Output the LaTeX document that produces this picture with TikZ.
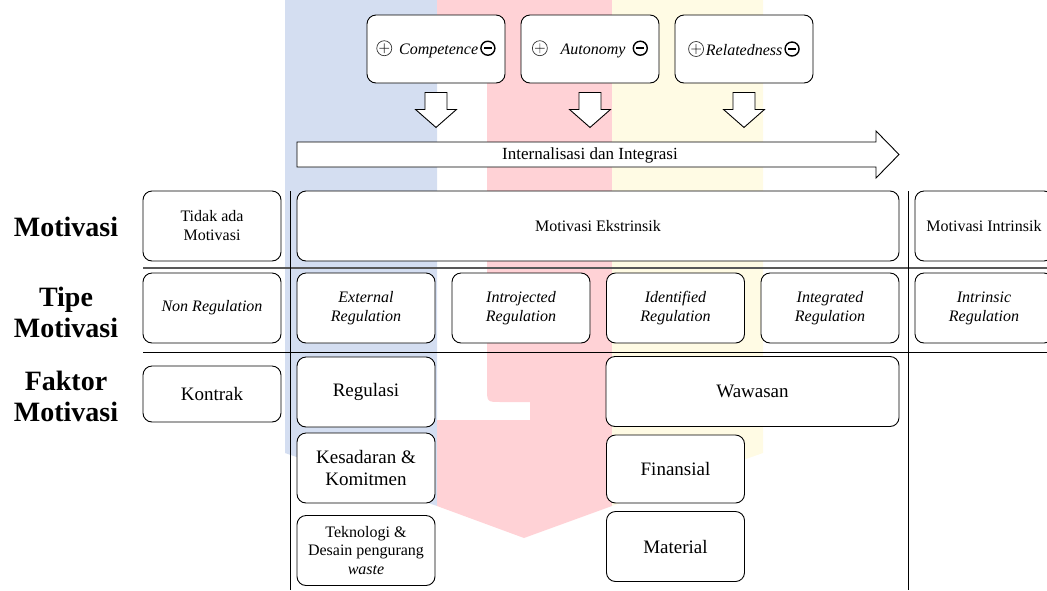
\documentclass[tikz,border=0pt]{standalone}
\usepackage{fontspec}
\setmainfont{Liberation Serif}
\usepackage{tikz}
\definecolor{logoblue}{RGB}{212,222,241}
\definecolor{logored}{RGB}{255,210,214}
\definecolor{logoyellow}{RGB}{255,251,228}
\newcommand{\plusmark}{\tikz[baseline=-6pt]{\draw[line width=0.7pt, black!80] (0,0) circle (7.5pt) (-4.8pt,0) -- (4.8pt,0) (0,-4.8pt) -- (0,4.8pt);}}
\newcommand{\minusmark}{\tikz[baseline=-6pt]{\draw[line width=1.4pt] (0,0) circle (7pt); \draw[line width=2.2pt] (-3.8pt,0) -- (3.8pt,0);}}

\begin{document}
\begin{tikzpicture}[x=1pt, y=-1pt,
    box/.style={draw, rounded corners=9pt, fill=white, line width=0.9pt, inner sep=2pt, align=center,
        minimum width=138pt, minimum height=70pt, font=\fontsize{16}{19}\selectfont},
    bigbox/.style={box, font=\fontsize{19}{22}\selectfont},
    regbox/.style={box, font=\fontsize{16}{19}\selectfont\itshape},
    rowlabel/.style={align=center, font=\fontsize{28}{31}\selectfont\bfseries}]
    \useasboundingbox (0,0) rectangle (1047,590);

    % logo in the background
    \fill[logoblue] (285,0) -- (437,0) -- (437,506) -- (285,453) -- cycle;
    \fill[logored] (437,0) -- (612,0) -- (612,506) -- (524,538) -- (437,506) -- (437,420) -- (530,420)
        -- (530,402) -- (501,402) .. controls (487,402) .. (487,388) -- (487,38) -- (437,38) -- cycle;
    \fill[logoyellow] (612,0) -- (763,0) -- (763,453) -- (612,506) -- cycle;

    % grid lines
    \draw[line width=1.6pt, black!65] (143,268) -- (1047,268);
    \draw[line width=0.9pt] (143,352) -- (1047,352);
    \draw[line width=0.9pt] (290,191) -- (290,590);
    \draw[line width=0.9pt] (908,191) -- (908,590);

    \node (comp) [box, minimum height=68pt] at (436,49) {\plusmark\hspace{7pt}\textit{Competence}\hspace{2pt}\minusmark};
    \node (auto) [box, minimum height=68pt] at (590,49) {\plusmark\hspace{13pt}\textit{Autonomy}\hspace{7pt}\minusmark};
    \node (rel) [box, minimum height=68pt] at (744,49) {\plusmark\hspace{2pt}\textit{Relatedness}\hspace{2pt}\minusmark};

    \foreach \n in {comp, auto, rel}
        \draw[fill=white, line width=0.9pt] (\n.south) ++(-11,9) -- ++(22,0) -- ++(0,17) -- ++(9.5,0)
            -- ++(-20.5,18) -- ++(-20.5,-18) -- ++(9.5,0) -- cycle;

    \draw[fill=white, line width=0.9pt] (297,142) -- (876,142) -- (876,131) -- (899,154.5) -- (876,178)
        -- (876,167) -- (297,167) -- cycle;
    \node (intg) [font=\fontsize{17}{20}\selectfont] at (590,155) {Internalisasi dan Integrasi};

    \node (lmot) [rowlabel] at (66,227) {Motivasi};
    \node (ltipe) [rowlabel] at (66,312) {Tipe\\Motivasi};
    \node (lfaktor) [rowlabel] at (66,396) {Faktor\\Motivasi};

    \node (amot) [box] at (212,226) {Tidak ada\\Motivasi};
    \node (ekst) [box, minimum width=602pt] at (598,226) {Motivasi Ekstrinsik};
    \node (intr) [box] at (984,226) {Motivasi Intrinsik};

    \node (nonreg) [regbox] at (212,308) {Non Regulation};
    \node (extreg) [regbox] at (366,308) {External\\Regulation};
    \node (introreg) [regbox] at (521,308) {Introjected\\Regulation};
    \node (idenreg) [regbox] at (675.5,308) {Identified\\Regulation};
    \node (integreg) [regbox] at (830,308) {Integrated\\Regulation};
    \node (intrinreg) [regbox] at (984,308) {Intrinsic\\Regulation};

    \node (kontrak) [bigbox, minimum height=56pt] at (212,394) {Kontrak};
    \node (regulasi) [bigbox] at (366,392) {Regulasi};
    \node (sadar) [bigbox] at (366,468) {Kesadaran \&\\Komitmen};
    \node (tekno) [box, font=\fontsize{16}{18.5}\selectfont] at (366,550.5) {Teknologi \&\\Desain pengurang\\\textit{waste}};
    \node (wawasan) [bigbox, minimum width=293pt] at (752.5,391.5) {Wawasan};
    \node (finansial) [bigbox, minimum height=68pt] at (675.5,469) {Finansial};
    \node (material) [bigbox] at (675.5,546.5) {Material};
\end{tikzpicture}
\end{document}
